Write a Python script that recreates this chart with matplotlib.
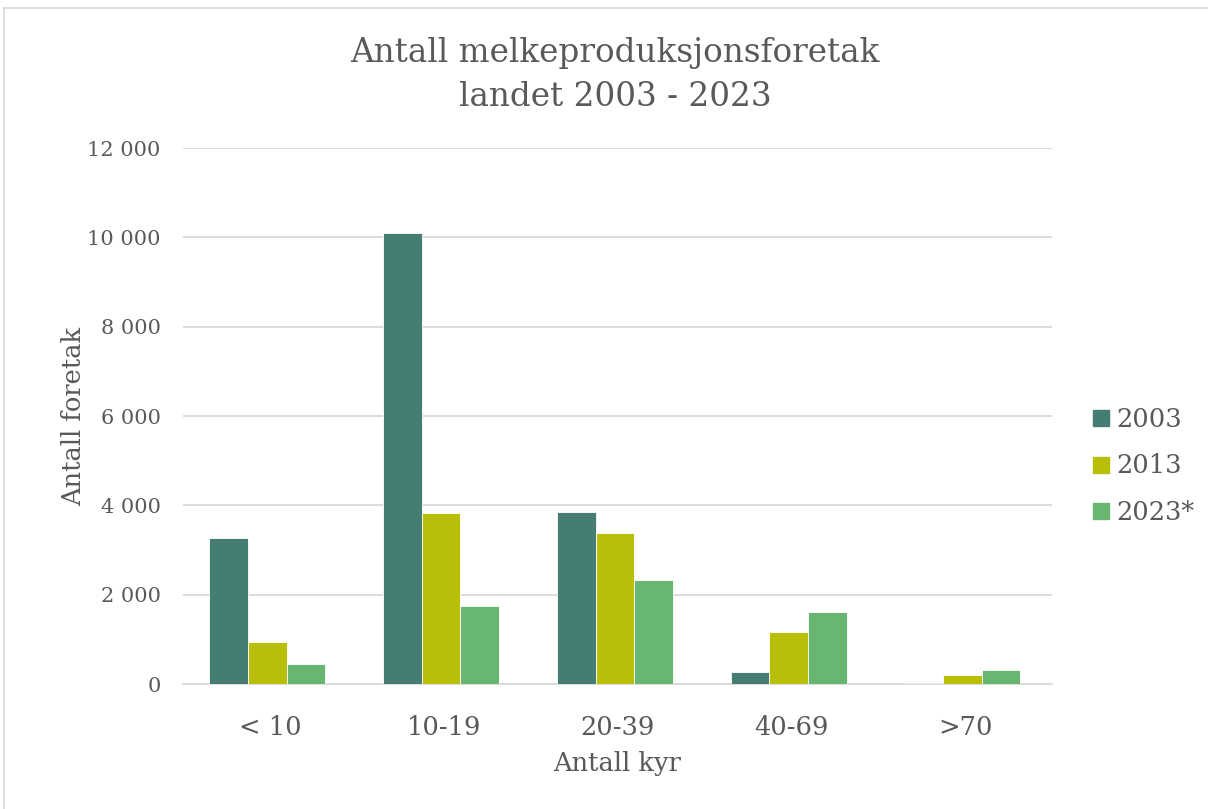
import matplotlib.pyplot as plt
import numpy as np
from matplotlib.lines import Line2D

# Data
categories = ["< 10", "10-19", "20-39", "40-69", ">70"]
years = ["2003", "2013", "2023*"]
v2003 = [3260, 10090, 3850, 262, 20]
v2013 = [947, 3820, 3380, 1157, 201]
v2023 = [441, 1754, 2321, 1605, 313]

colors = ["#467D73", "#B8BF08", "#69B572"]
text_col = "#595959"

plt.rcParams['font.family'] = ['DejaVu Serif']

fig = plt.figure(figsize=(12.08, 8.09), dpi=100)
ax = fig.add_axes([183 / 1208, 1 - 684 / 809, (1052 - 183) / 1208, (684 - 148) / 809])

x = np.arange(len(categories))
w = 0.222
for i, (vals, lab) in enumerate(zip([v2003, v2013, v2023], years)):
    ax.bar(x + (i - 1) * w - 0.015, vals, width=w, color=colors[i], label=lab,
           edgecolor="white", linewidth=0.6, zorder=3)

ax.set_xlim(-0.5, len(categories) - 0.5)
ax.set_ylim(0, 12000)
ax.set_yticks(np.arange(0, 12001, 2000))
ax.set_yticklabels([f"{int(t):,}".replace(",", " ") for t in np.arange(0, 12001, 2000)])
ax.set_xticks(x)
ax.set_xticklabels(categories)
ax.grid(axis="y", color="#D9D9D9", linewidth=1.3, zorder=0)
ax.tick_params(axis="both", length=0, colors=text_col)
ax.tick_params(axis="y", labelsize=15, pad=16)
ax.tick_params(axis="x", labelsize=18.5, pad=22)
for s in ["top", "right", "left"]:
    ax.spines[s].set_visible(False)
ax.spines["bottom"].set_color("#D9D9D9")
ax.spines["bottom"].set_linewidth(1.3)

ax.set_ylabel("Antall foretak", fontsize=18.5, color=text_col, labelpad=1)
ax.set_xlabel("Antall kyr", fontsize=18.5, color=text_col, labelpad=8)

fig.text(0.509, 1 - 75 / 809, "Antall melkeproduksjonsforetak\nlandet 2003 - 2023",
         ha="center", va="center", fontsize=23.5, color=text_col, linespacing=1.45)

handles = [Line2D([], [], marker="s", linestyle="none", markersize=12,
                  markerfacecolor=c, markeredgecolor=c) for c in colors]
fig.legend(handles, years, loc="center left", bbox_to_anchor=(1070 / 1208, 1 - 466 / 809),
           frameon=False, fontsize=18.5, labelcolor=text_col, handletextpad=0.1,
           labelspacing=0.85, handlelength=1.0, borderpad=0.2)

# outer chart border
fig.add_artist(Line2D([4 / 1208, 4 / 1208], [0, 1 - 8 / 809], color="#D9D9D9", linewidth=1.2))
fig.add_artist(Line2D([4 / 1208, 1], [1 - 8 / 809, 1 - 8 / 809], color="#D9D9D9", linewidth=1.2))

fig.savefig("out.png", dpi=100)
